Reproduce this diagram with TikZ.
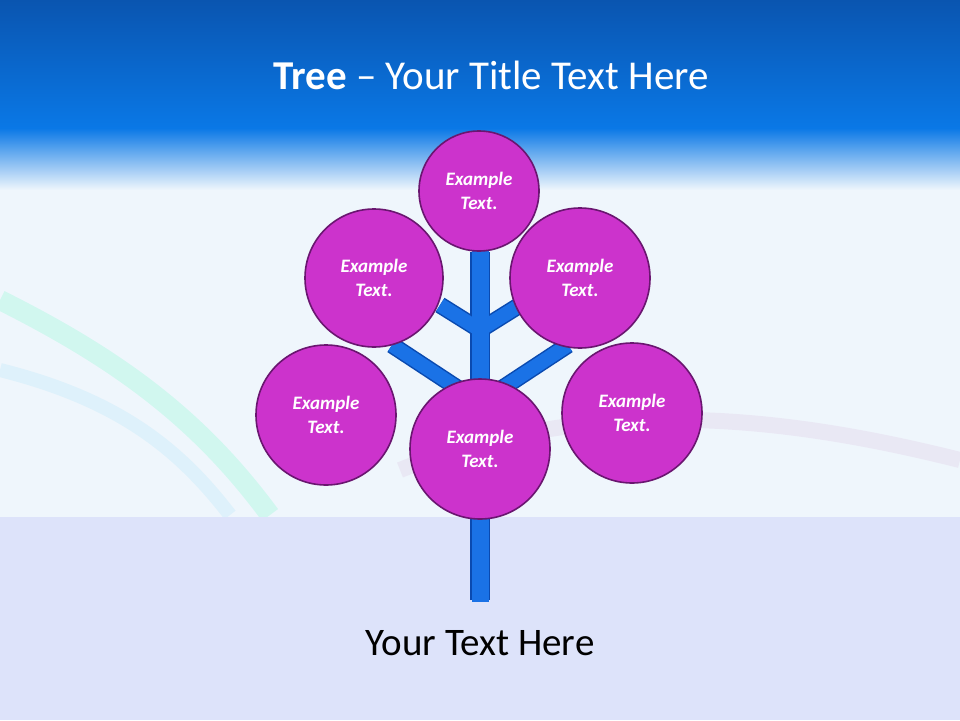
\documentclass[tikz,border=0pt]{standalone}
\usepackage{fontspec}
\setmainfont{Carlito}
\begin{document}
\begin{tikzpicture}[x=1pt,y=-1pt,
  leaf/.style={circle,draw=ballborder,line width=1.6pt,fill=ballfill,text=white,font=\bfseries\itshape\fontsize{19}{24}\selectfont,align=center,inner sep=0pt},
  trunk/.style={line width=17pt,draw=branchborder},
  trunkin/.style={line width=14pt,draw=branchfill}]
\definecolor{ballfill}{HTML}{CC33CC}
\definecolor{ballborder}{HTML}{6A1670}
\definecolor{branchfill}{HTML}{1A72E6}
\definecolor{branchborder}{HTML}{0A4AB0}
\definecolor{topblue}{HTML}{0A55B0}
\definecolor{midblue}{HTML}{0A78E6}
\definecolor{bgpale}{HTML}{EFF6FC}
\definecolor{lowpale}{HTML}{DDE3FA}
\useasboundingbox (0,0) rectangle (960,720);
\fill[bgpale] (0,0) rectangle (960,720);
\shade[top color=topblue,bottom color=midblue] (0,0) rectangle (960,128);
\shade[top color=midblue,bottom color=bgpale] (0,128) rectangle (960,190);
% faint waves
\draw[green!40!cyan,opacity=0.12,line width=20pt] (0,300) .. controls (120,360) and (200,420) .. (270,515);
\draw[cyan!60,opacity=0.12,line width=14pt] (0,370) .. controls (120,400) and (180,450) .. (230,515);
\draw[violet!40,opacity=0.15,line width=16pt] (400,470) .. controls (600,390) and (800,420) .. (960,460);
\fill[lowpale] (0,517) rectangle (960,720);
\node[text=white,font=\fontsize{41}{48}\selectfont] (title) at (491,75) {\textbf{Tree} -- Your Title Text Here};
\node[font=\fontsize{39}{46}\selectfont] (foot) at (480,643) {Your Text Here};
% trunk and branches
\coordinate (tb) at (480,600);
\coordinate (tt) at (480,252);
\coordinate (j1) at (480,330);
\coordinate (j2) at (468,395);
\coordinate (j3) at (492,395);
\foreach \a/\b in {j1/{(440,305)},j1/{(520,305)},j2/{(392,345)},j3/{(568,345)}}{
  \draw[trunk] (\a) -- \b; }
\draw[line width=20pt,draw=branchborder] (tb) -- (tt);
\foreach \a/\b in {j1/{(440,305)},j1/{(520,305)},j2/{(392,345)},j3/{(568,345)}}{
  \draw[trunkin] (\a) -- \b; }
\draw[line width=17pt,draw=branchfill] ([yshift=-1.5pt]tb) -- ([yshift=1.5pt]tt);
\node[leaf,minimum size=120pt] (n1) at (479,191) {Example\\Text.};
\node[leaf,minimum size=138pt] (n2) at (374,278) {Example\\Text.};
\node[leaf,minimum size=140pt] (n3) at (580,278) {Example\\Text.};
\node[leaf,minimum size=140pt] (n4) at (326,415) {Example\\Text.};
\node[leaf,minimum size=140pt] (n5) at (632,413) {Example\\Text.};
\node[leaf,minimum size=140pt] (n6) at (480,449) {Example\\Text.};
\end{tikzpicture}
\end{document}
